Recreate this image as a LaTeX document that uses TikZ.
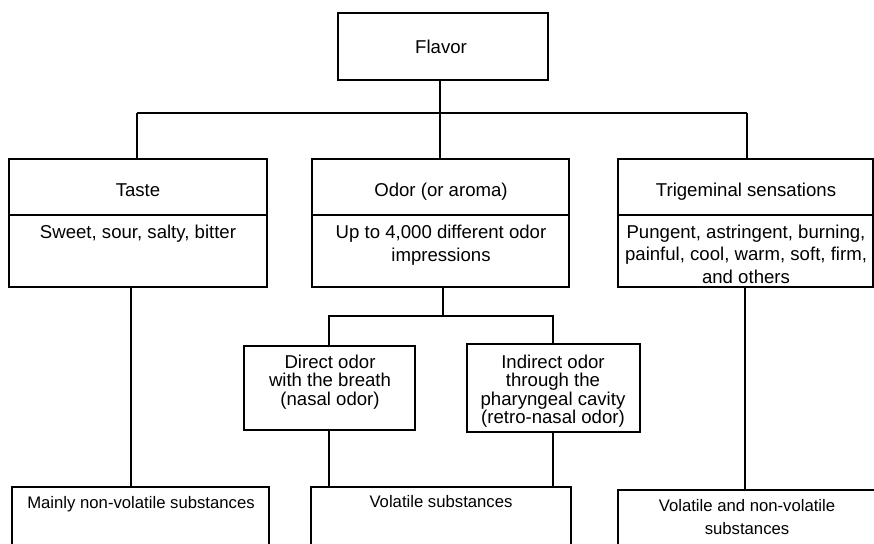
\documentclass[tikz,border=0pt]{standalone}
\usepackage{fontspec}
\setmainfont{Liberation Sans}
\begin{document}
\begin{tikzpicture}[x=1pt,y=-1pt,
  box/.style={draw, line width=2.5pt, inner sep=0pt},
  conn/.style={line width=2.5pt},
  % multi-line texts are placed by the baseline of their last line
  txt/.style={font=\fontsize{18.6}{22.5}\selectfont, inner sep=0pt, anchor=base, align=center},
  tight/.style={font=\fontsize{18.6}{18.5}\selectfont, inner sep=0pt, anchor=base, align=center},
  small/.style={font=\fontsize{16.7}{23}\selectfont, inner sep=0pt, anchor=base, align=center}]
\useasboundingbox (0,0) rectangle (874,543);
\clip (0,0) rectangle (874,543);

% boxes
\node[box, minimum width=210, minimum height=67]  (flavor)   at (443,46.5) {};
\node[box, minimum width=258, minimum height=128] (taste)    at (138,223) {};
\node[box, minimum width=257, minimum height=128] (odor)     at (440.5,223) {};
\node[box, minimum width=255, minimum height=128] (trig)     at (745.5,223) {};
\node[box, minimum width=171, minimum height=84]  (direct)   at (329.5,388) {};
\node[box, minimum width=173, minimum height=88]  (indirect) at (553.5,388) {};
\node[box, minimum width=257, minimum height=80]  (mainly)   at (140.5,527) {};
\node[box, minimum width=260, minimum height=80]  (volatile) at (441,527) {};
\node[box, minimum width=272, minimum height=80]  (volnv)    at (754,530) {};

% header dividers
\draw[conn] (taste.west |- 0,215) -- (taste.east |- 0,215);
\draw[conn] (odor.west |- 0,215) -- (odor.east |- 0,215);
\draw[conn] (trig.west |- 0,215) -- (trig.east |- 0,215);

% texts
\node[txt] (tflavor) at (441,53) {Flavor};
\node[txt] (ttaste) at (138,196) {Taste};
\node[txt] (todor)  at (441,196) {Odor (or aroma)};
\node[txt] (ttrig)  at (746,196) {Trigeminal sensations};
\node[txt] (dtaste) at (138,238) {Sweet, sour, salty, bitter};
\node[txt] (dodor)  at (441,261) {Up to 4,000 different odor\\impressions};
\node[txt] (dtrig)  at (746,283) {Pungent, astringent, burning,\\painful, cool, warm, soft, firm,\\and others};
\node[tight] (tdirect)   at (330,405) {Direct odor\\with the breath\\(nasal odor)};
\node[tight] (tindirect) at (553,423.5) {Indirect odor\\through the\\pharyngeal cavity\\(retro-nasal odor)};
\node[small] (tmainly)   at (141,508.5) {Mainly non-volatile substances};
\node[small] (tvolatile) at (441,507.5) {Volatile substances};
\node[small] (tvolnv)    at (747,534) {Volatile and non-volatile\\substances};

% connectors
\coordinate (busL) at (137,113);
\coordinate (busM) at (440,113);
\coordinate (busR) at (747,113);
\draw[conn] (busM |- flavor.south) -- (busM);
\draw[conn] (busL) -- (busR);
\draw[conn] (busL) -- (busL |- taste.north);
\draw[conn] (busM) -- (busM |- odor.north);
\draw[conn] (busR) -- (busR |- trig.north);

\coordinate (subL) at (329,316);
\coordinate (subM) at (443,316);
\coordinate (subR) at (553,316);
\draw[conn] (subM |- odor.south) -- (subM);
\draw[conn] (subL |- direct.north) -- (subL) -- (subR) -- (subR |- indirect.north);
\draw[conn] (subL |- direct.south) -- (subL |- volatile.north);
\draw[conn] (subR |- indirect.south) -- (subR |- volatile.north);

\coordinate (tasteDrop) at (131,0);
\coordinate (trigDrop) at (745,0);
\draw[conn] (tasteDrop |- taste.south) -- (tasteDrop |- mainly.north);
\draw[conn] (trigDrop |- trig.south) -- (trigDrop |- volnv.north);
\end{tikzpicture}
\end{document}
